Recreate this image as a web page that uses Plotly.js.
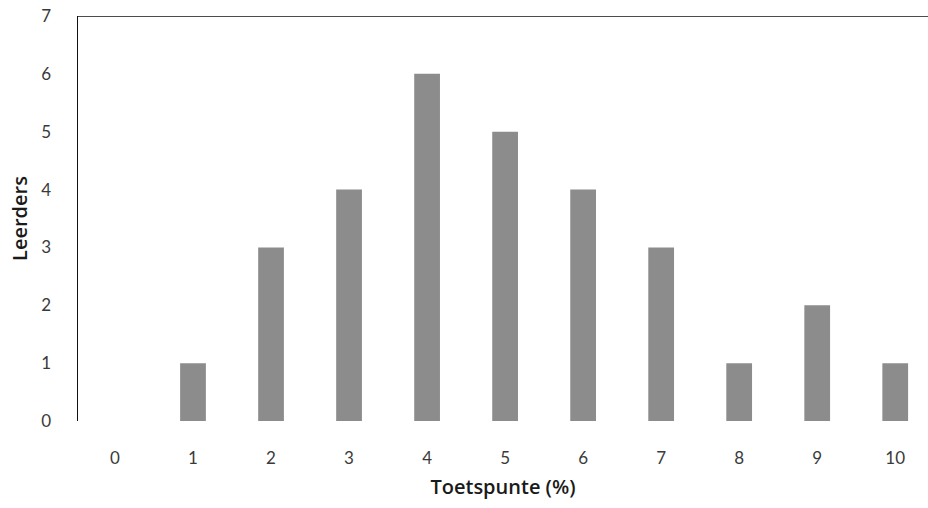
<!DOCTYPE html>
<html>
<head>
<meta charset="utf-8">
<script src="https://cdn.plot.ly/plotly-3.0.1.min.js"></script>
<style>html,body{margin:0;padding:0;background:#fff;}#chart{width:928px;height:508px;}</style>
</head>
<body>
<div id="chart"></div>
<script>
const categories = [0, 1, 2, 3, 4, 5, 6, 7, 8, 9, 10];
const learners = [0, 1, 3, 4, 6, 5, 4, 3, 1, 2, 1];
const yTicks = [0, 1, 2, 3, 4, 5, 6, 7];
const xTitle = "Toetspunte (%)";
const yTitle = "Leerders";

const trace = {
  type: 'bar',
  x: categories,
  y: learners,
  width: 0.33,
  marker: { color: '#8c8c8c', line: { width: 0 } },
  hoverinfo: 'skip'
};

const layout = {
  width: 928, height: 508,
  margin: { l: 78, r: 0, t: 16, b: 87 },
  paper_bgcolor: '#ffffff', plot_bgcolor: '#ffffff',
  showlegend: false,
  font: { family: 'Lato, "Open Sans", sans-serif', color: '#333333', size: 16 },
  xaxis: {
    range: [-0.474, 10.42],
    tickvals: categories,
    ticktext: categories.map(String),
    showgrid: false, zeroline: false, showline: false,
    ticks: 'outside', ticklen: 22, tickcolor: 'rgba(0,0,0,0)',
    tickfont: { family: 'Lato, sans-serif', size: 17, color: '#3a3a3a' },
    title: { text: xTitle, font: { family: '"Open Sans", sans-serif', size: 20, weight: 600, color: '#1a1a1a' }, standoff: 12 }
  },
  yaxis: {
    range: [0, 7],
    tickvals: yTicks,
    showgrid: false, zeroline: false,
    showline: true, linecolor: '#111111', linewidth: 1.5,
    ticks: 'outside', ticklen: 22, tickcolor: 'rgba(0,0,0,0)',
    tickfont: { family: 'Lato, sans-serif', size: 17, color: '#3a3a3a' },
    title: { text: yTitle, font: { family: '"Open Sans", sans-serif', size: 20, weight: 600, color: '#1a1a1a' }, standoff: 8 }
  },
  shapes: [{
    type: 'line', xref: 'paper', yref: 'y', x0: 0, x1: 1, y0: 7, y1: 7,
    line: { color: '#111111', width: 1.5 }
  }]
};

Plotly.newPlot('chart', [trace], layout, { displayModeBar: false, staticPlot: true });
</script>
</body>
</html>
